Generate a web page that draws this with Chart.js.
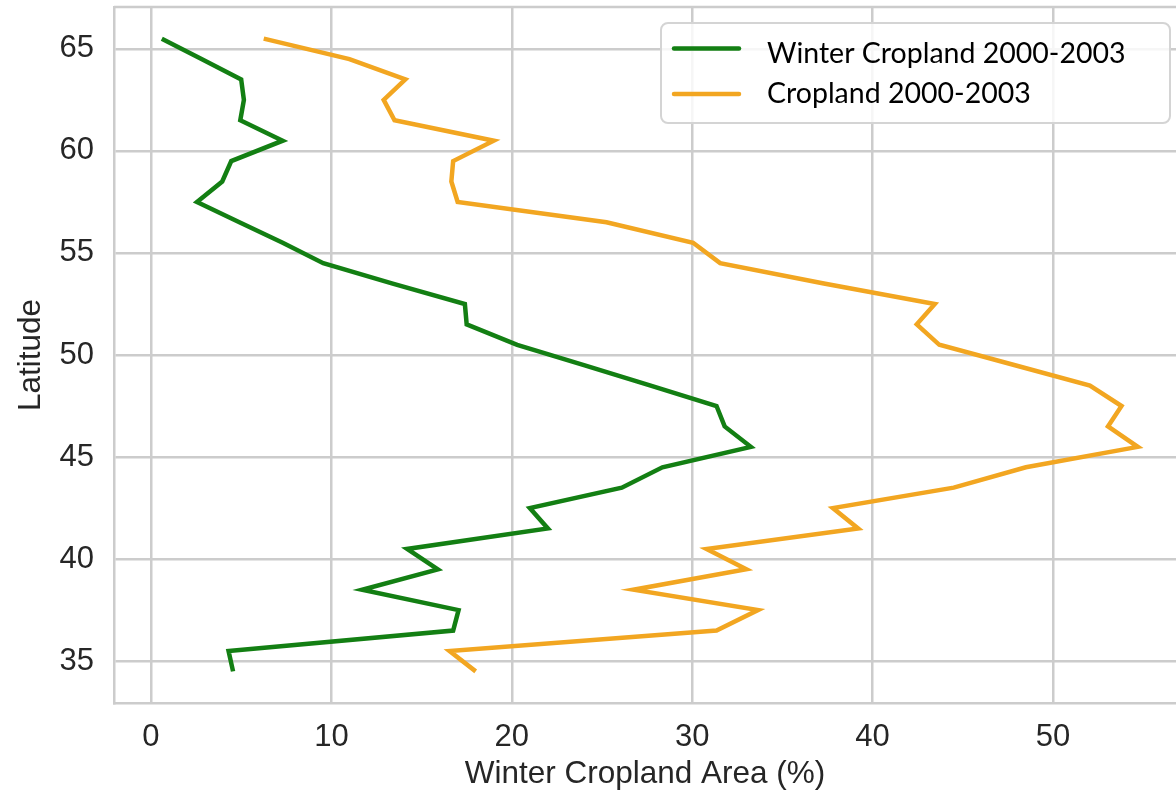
<!DOCTYPE html>
<html>
<head>
<meta charset="utf-8">
<script src="https://cdn.jsdelivr.net/npm/chart.js@4.4.1/dist/chart.umd.min.js"></script>
<style>
  html, body { margin: 0; padding: 0; background: #ffffff; }
  #wrap { width: 1176px; height: 801px; position: relative; }
</style>
</head>
<body>
<div id="wrap"><canvas id="chart"></canvas></div>
<script>
// latitude bands (degrees N), top to bottom
var latitudes = [65.5, 64.5, 63.5, 62.5, 61.5, 60.5, 59.5, 58.5, 57.5, 56.5, 55.5,
                 54.5, 53.5, 52.5, 51.5, 50.5, 49.5, 48.5, 47.5, 46.5, 45.5, 44.5,
                 43.5, 42.5, 41.5, 40.5, 39.5, 38.5, 37.5, 36.5, 35.5, 34.5];

// share of area (%) per latitude band
var winter_cropland = [0.6, 2.8, 5.0, 5.15, 4.95, 7.3, 4.45, 3.95, 2.55, 4.9, 7.3,
                       9.55, 13.4, 17.4, 17.5, 20.3, 24.0, 27.7, 31.35, 31.8, 33.25, 28.35,
                       26.1, 21.0, 22.0, 14.2, 15.9, 11.7, 17.05, 16.75, 4.3, 4.55];
var cropland = [6.25, 11.0, 14.1, 12.9, 13.5, 19.0, 16.75, 16.65, 17.0, 25.25, 30.05,
                31.55, 37.3, 43.45, 42.45, 43.7, 47.9, 52.05, 53.8, 53.05, 54.7, 48.5,
                44.5, 37.8, 39.2, 30.8, 33.0, 26.75, 33.65, 31.35, 16.55, 18.0];

var series_labels = ['Winter Cropland 2000-2003', 'Cropland 2000-2003'];
var series_colors = ['#137f13', '#f2a621'];

var x_ticks = [0, 10, 20, 30, 40, 50];
var y_ticks = [35, 40, 45, 50, 55, 60, 65];

var GRID = '#cccccc';
var TEXT = '#262626';
var FONT = '"Liberation Sans", Arial, sans-serif';

function to_points(values)
{
    return values.map(function(v, i) { return { x: v, y: latitudes[i] }; });
}

// light frame on top of the plot area (the left/bottom come from the axes)
var frame_plugin = {
    id: 'frame',
    beforeDatasetsDraw: function(chart)
    {
        var a = chart.chartArea;
        var ctx = chart.ctx;
        ctx.save();
        ctx.strokeStyle = GRID;
        ctx.lineWidth = 2.5;
        ctx.beginPath();
        ctx.moveTo(a.left, a.top);
        ctx.lineTo(a.right + 5, a.top);
        ctx.stroke();
        ctx.restore();
    }
};

// boxed legend inside the plot, upper right
var box_legend_plugin = {
    id: 'boxLegend',
    afterDatasetsDraw: function(chart)
    {
        var ctx = chart.ctx;
        var bx = 661, by = 23, bw = 509, bh = 100, r = 7;
        ctx.save();
        ctx.beginPath();
        ctx.moveTo(bx + r, by);
        ctx.arcTo(bx + bw, by, bx + bw, by + bh, r);
        ctx.arcTo(bx + bw, by + bh, bx, by + bh, r);
        ctx.arcTo(bx, by + bh, bx, by, r);
        ctx.arcTo(bx, by, bx + bw, by, r);
        ctx.closePath();
        ctx.fillStyle = 'rgba(255,255,255,0.82)';
        ctx.fill();
        ctx.strokeStyle = '#d4d4d4';
        ctx.lineWidth = 2;
        ctx.stroke();

        var line_y = [48.5, 94];
        var text_y = [53.5, 93.5];
        chart.data.datasets.forEach(function(ds, i) {
            ctx.strokeStyle = ds.borderColor;
            ctx.lineWidth = 4.5;
            ctx.lineCap = 'round';
            ctx.beginPath();
            ctx.moveTo(674, line_y[i]);
            ctx.lineTo(739, line_y[i]);
            ctx.stroke();

            ctx.fillStyle = '#000000';
            ctx.font = '28.5px Lato';
            ctx.textBaseline = 'middle';
            ctx.textAlign = 'left';
            ctx.fillText(ds.label, 767, text_y[i]);
        });
        ctx.restore();
    }
};

var config = {
    type: 'line',
    data: {
        datasets: [
            {
                label: series_labels[0],
                data: to_points(winter_cropland),
                borderColor: series_colors[0],
                backgroundColor: series_colors[0],
                borderWidth: 4.5,
                pointRadius: 0,
                tension: 0,
                borderJoinStyle: 'miter'
            },
            {
                label: series_labels[1],
                data: to_points(cropland),
                borderColor: series_colors[1],
                backgroundColor: series_colors[1],
                borderWidth: 4.5,
                pointRadius: 0,
                tension: 0,
                borderJoinStyle: 'miter'
            }
        ]
    },
    options: {
        responsive: true,
        maintainAspectRatio: false,
        animation: false,
        layout: { padding: { top: 7, right: 0, left: 0, bottom: 0 } },
        plugins: {
            legend: { display: false },
            tooltip: { enabled: false }
        },
        scales: {
            x: {
                type: 'linear',
                min: -2.05,
                max: 56.82,
                afterBuildTicks: function(scale) {
                    scale.ticks = x_ticks.map(function(v) { return { value: v }; });
                },
                afterFit: function(scale) {
                    scale.height = 98;
                    scale.paddingLeft = 0;
                    scale.paddingRight = 0;
                },
                grid: { color: GRID, lineWidth: 2.5, drawTicks: false },
                border: { color: GRID, width: 2.5 },
                ticks: {
                    color: TEXT,
                    padding: 16,
                    maxRotation: 0,
                    font: { family: FONT, size: 31 }
                },
                title: {
                    display: true,
                    text: 'Winter Cropland Area (%)',
                    color: TEXT,
                    padding: { top: 0, bottom: 8 },
                    font: { family: FONT, size: 31.5 }
                }
            },
            y: {
                type: 'linear',
                min: 32.95,
                max: 67.05,
                afterBuildTicks: function(scale) {
                    scale.ticks = y_ticks.map(function(v) { return { value: v }; });
                },
                afterFit: function(scale) {
                    scale.width = 114;
                    scale.paddingTop = 0;
                    scale.paddingBottom = 0;
                },
                grid: { color: GRID, lineWidth: 2.5, drawTicks: false },
                border: { color: GRID, width: 2.5 },
                ticks: {
                    color: TEXT,
                    padding: 20,
                    font: { family: FONT, size: 31 }
                },
                title: {
                    display: true,
                    text: 'Latitude',
                    color: TEXT,
                    padding: { top: 12, bottom: 0 },
                    font: { family: FONT, size: 31.5 }
                }
            }
        }
    },
    plugins: [frame_plugin, box_legend_plugin]
};

window.addEventListener('load', function()
{
    new Chart(document.getElementById('chart'), config);
});
</script>
</body>
</html>
